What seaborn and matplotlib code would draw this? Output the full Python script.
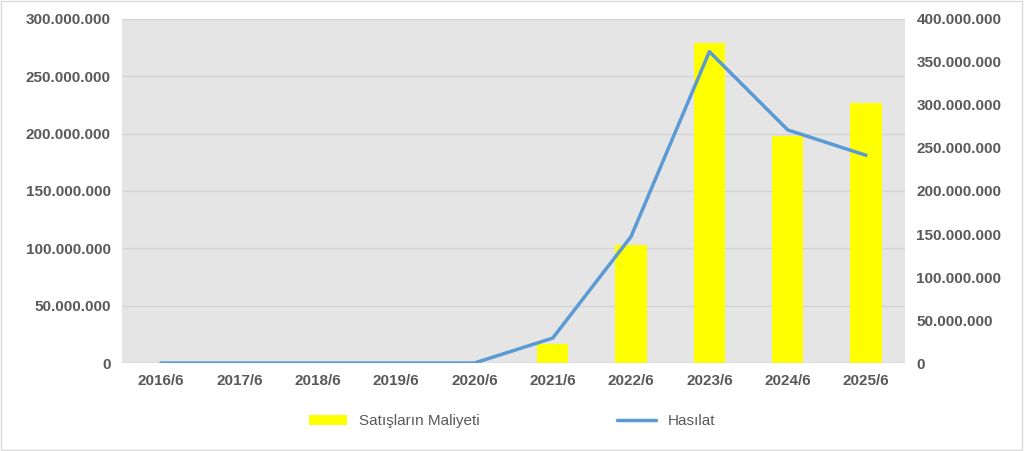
import pandas as pd
import matplotlib.pyplot as plt
import seaborn as sns
from matplotlib.ticker import FuncFormatter
from matplotlib.lines import Line2D
from matplotlib.patches import Patch

years = ['2016/6', '2017/6', '2018/6', '2019/6', '2020/6', '2021/6', '2022/6', '2023/6', '2024/6', '2025/6']
cost = [0, 0, 0, 0, 0, 16.9e6, 103e6, 279e6, 198e6, 226.5e6]
revenue = [0, 0, 0, 0, 0, 29e6, 147e6, 362e6, 271e6, 241.5e6]

df = pd.DataFrame({'Yil': years, 'Maliyet': cost, 'Hasilat': revenue})

sns.set_theme(style='white')
plt.rcParams['font.family'] = ['Liberation Sans', 'DejaVu Sans']

fig = plt.figure(figsize=(10.24, 4.51), dpi=100)
ax = fig.add_axes([0.119, 0.195, 0.765, 0.763])
ax.set_facecolor('#e5e5e5')

sns.barplot(data=df, x='Yil', y='Maliyet', color='#ffff00', width=0.4, ax=ax,
            saturation=1, linewidth=0)
ax.set_ylim(0, 300e6)
ax.set_yticks(range(0, 300000001, 50000000))
fmt = FuncFormatter(lambda v, p: f'{int(v):,}'.replace(',', '.'))
ax.yaxis.set_major_formatter(fmt)
ax.grid(axis='y', color='#d4d4d4', linewidth=1)
ax.set_axisbelow(True)
ax.set_xlabel('')
ax.set_ylabel('')
for s in ax.spines.values():
    s.set_visible(False)
ax.axhline(0, color='#d0d0d0', linewidth=1)

ax2 = ax.twinx()
sns.lineplot(x=range(len(years)), y=df['Hasilat'], color='#5b9bd5', linewidth=2.5, ax=ax2)
ax2.set_ylim(0, 400e6)
ax2.yaxis.set_major_formatter(fmt)
ax2.set_ylabel('')
for s in ax2.spines.values():
    s.set_visible(False)

for a in (ax, ax2):
    a.tick_params(length=0, labelsize=11, colors='#595959', pad=8)
    for lbl in a.get_yticklabels() + a.get_xticklabels():
        lbl.set_fontweight('bold')
ax.set_xlim(-0.5, len(years) - 0.5)

handles = [Patch(color='#ffff00', linewidth=0), Line2D([0], [0], color='#5b9bd5', linewidth=2.5)]
fig.legend(handles, ['Satışların Maliyeti', 'Hasılat'], loc='lower center', ncol=2,
           bbox_to_anchor=(0.5, 0.02), frameon=False, columnspacing=9,
           prop={'size': 11}, labelcolor='#595959', handlelength=2.5, handleheight=0.6)

fig.patches.append(plt.Rectangle((0.001, 0.002), 0.997, 0.995, transform=fig.transFigure,
                                 fill=False, edgecolor='#d9d9d9', linewidth=1))
fig.savefig('out.png', dpi=100)
